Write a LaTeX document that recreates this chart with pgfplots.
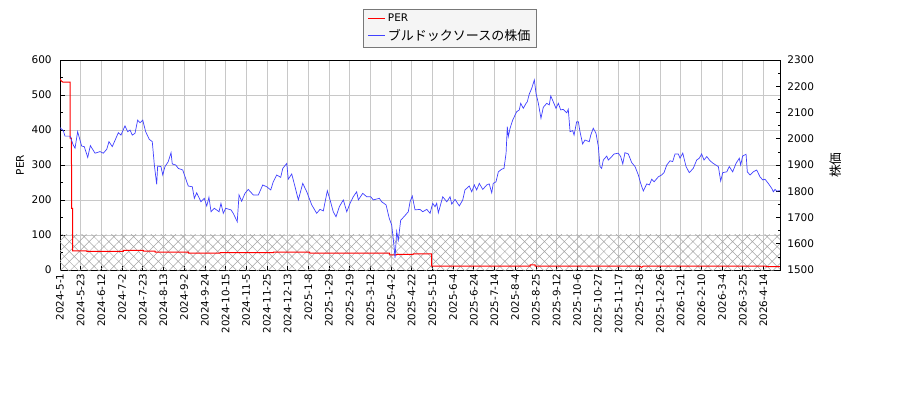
\documentclass[border=0pt]{standalone}
\usepackage{fontspec}
\setmainfont{DejaVu Sans}
\newfontfamily\jp{Noto Sans CJK JP}
\usepackage{pgfplots}
\pgfplotsset{compat=1.18}
\usetikzlibrary{patterns.meta}

\definecolor{gridgray}{RGB}{200,200,200}
\definecolor{priceblue}{RGB}{64,64,255}
\definecolor{legfill}{RGB}{245,245,245}
\definecolor{legdraw}{RGB}{120,120,120}
\definecolor{hatchgray}{RGB}{165,165,165}

\pgfplotsset{
  base/.style={
    scale only axis, width=720pt, height=210pt,
    xmin=0, xmax=522,
    tick align=inside,
    major tick length=4.5pt, minor tick length=2.5pt,
    every tick/.style={black, line width=0.6pt},
    tick label style={font=\fontsize{10.5}{12}\selectfont},
    label style={font=\fontsize{10.5}{12}\selectfont},
    /pgf/number format/assume math mode=true,
    /pgf/number format/1000 sep={},
    axis line style={line width=0.8pt},
  }
}

\begin{document}
\begin{tikzpicture}
\begin{axis}[base,
  ymin=0, ymax=600, ytick={0,100,...,600}, minor y tick num=1,
  xtick={0,15,...,510},
  xticklabels={2024-5-1,2024-5-23,2024-6-12,2024-7-2,2024-7-23,2024-8-13,2024-9-2,2024-9-24,2024-10-15,2024-11-5,2024-11-25,2024-12-13,2025-1-8,2025-1-29,2025-2-19,2025-3-12,2025-4-2,2025-4-22,2025-5-15,2025-6-4,2025-6-24,2025-7-14,2025-8-4,2025-8-25,2025-9-12,2025-10-6,2025-10-27,2025-11-17,2025-12-8,2025-12-26,2026-1-21,2026-2-10,2026-3-4,2026-3-25,2026-4-14},
  xticklabel style={rotate=90, anchor=east, font=\fontsize{10.3}{12}\selectfont},
  yticklabel style={xshift=-4.8pt},
  tick pos=left,
  grid=major, major grid style={gridgray, line width=0.6pt},
  ylabel={PER},
  ylabel style={at={(axis description cs:-0.0556,0.5)}, anchor=center},
]
\addplot[draw=none, pattern={Hatch[angle=45,distance=7pt,line width=0.5pt]}, pattern color=hatchgray, forget plot]
  coordinates {(0,102) (522,102)} \closedcycle;

\addplot[red, line width=1pt] coordinates {
(0,546) (1,540) (2,537) (7.3,537) (7.4,377) (8.3,377) (8.4,176) (9.1,176) (9.2,55)
(19.3,55) (19.4,53.5) (45.9,53.5) (46,56) (60.4,56) (60.5,54) (68.9,54) (69,51)
(93,51) (93.1,48.5) (116,48.5) (116.1,49.5) (154.7,49.5) (154.8,51) (181,51)
(181.1,48.5) (239,48.5) (239.1,43) (244,43) (244.1,45) (256,45) (256.1,46)
(269.4,46) (269.5,11.4) (340.8,11.4) (340.9,14.3) (344.4,14.3) (344.5,11.4)
(420.5,11.4) (421.5,7.6) (423,11.4) (512,11.4) (512.1,9.5) (522,9.5)
};
\end{axis}

\begin{axis}[base,
  ymin=1500, ymax=2300, ytick={1500,1600,...,2300}, minor y tick num=1,
  axis y line*=right, axis x line=none,
  yticklabel style={xshift=3.8pt},
  ylabel={\jp\fontsize{12.7}{14}\selectfont 株価},
  ylabel style={at={(axis description cs:1.0778,0.5)}, anchor=center, rotate=0},
  legend style={at={(axis description cs:0.5417,1.245)}, anchor=north,
    draw=legdraw, fill=legfill, line width=0.6pt,
    font=\fontsize{10.5}{12}\selectfont,
    inner xsep=4pt, inner ysep=3pt, row sep=2.5pt},
  legend cell align=left,
  legend image code/.code={\draw[#1] (0pt,0pt) -- (17pt,0pt);},
]
\addlegendimage{red, line width=1.2pt}
\addlegendentry{PER}
\addplot[priceblue, line width=0.7pt] coordinates {
(0,2042) (2.4,2031) (3.6,2010) (7.3,2010) (9.6,1976) (10.9,1964) (12.8,2027)
(15.7,1972) (17.6,1970) (20.1,1929) (22.0,1974) (25.4,1945) (29.0,1951)
(31.4,1945) (33.9,1960) (35.5,1989) (37.9,1970) (42.3,2023) (44.2,2014)
(47.1,2049) (49.1,2027) (50.8,2033) (52.4,2014) (54.4,2021) (56.3,2071)
(58.0,2061) (60.0,2071) (62.1,2027) (64.7,1998) (66.9,1989) (68.4,1900)
(70.1,1826) (70.8,1896) (73.2,1894) (74.5,1862) (76.1,1894) (78.5,1913)
(80.5,1947) (81.4,1904) (83.9,1900) (85.8,1887) (89.0,1881) (91.9,1836)
(93.0,1820) (95.9,1817) (97.4,1773) (99.1,1794) (102.2,1760) (104.6,1773)
(106.4,1744) (108.0,1777) (109.5,1722) (111.9,1735) (115.3,1722) (116.7,1754)
(118.4,1716) (120.1,1735) (124.0,1729) (125.6,1716) (128.5,1684) (129.8,1786)
(131.7,1762) (134.1,1792) (136.5,1807) (140.1,1786) (143.8,1786) (147.0,1824)
(149.9,1817) (152.8,1805) (154.6,1836) (157.1,1862) (160.0,1853) (161.5,1887)
(164.4,1906) (165.5,1846) (168.0,1866) (170.4,1817) (172.8,1767) (176.0,1830)
(178.9,1798) (182.5,1748) (186.1,1716) (188.5,1731) (190.9,1725) (193.8,1802)
(195.8,1767) (198.1,1722) (200.1,1703) (202.5,1741) (205.4,1767) (207.9,1722)
(210.3,1754) (212.6,1779) (215.1,1798) (216.3,1767) (219.5,1792) (222.4,1779)
(225.3,1779) (227.1,1767) (231.5,1773) (233.2,1760) (236.4,1748) (238.7,1697)
(240.5,1671) (242.2,1589) (242.9,1545) (244.1,1646) (245.3,1614) (247.0,1690)
(249.4,1703) (252.5,1722) (253.8,1760) (255.4,1782) (257.4,1729) (261.0,1731)
(263.0,1722) (265.9,1731) (268.3,1716) (270.2,1754) (271.9,1741) (273.1,1754)
(274.3,1718) (277.5,1779) (280.4,1760) (282.8,1779) (284.0,1751) (286.4,1769)
(289.5,1744) (292.0,1767) (293.6,1805) (296.7,1820) (298.5,1798) (300.4,1824)
(302.1,1805) (304.0,1830) (306.5,1807) (309.4,1824) (311.2,1828) (313.0,1794)
(314.1,1830) (316.1,1836) (317.8,1874) (320.2,1884) (321.9,1887) (323.4,1945)
(324.3,2046) (325.0,2008) (326.3,2040) (328.2,2071) (329.9,2090) (331.1,2103)
(333.0,2110) (334.0,2135) (335.9,2116) (337.9,2135) (338.8,2141) (340.2,2170)
(342.0,2192) (343.9,2224) (345.1,2173) (346.8,2135) (348.7,2078) (350.4,2120)
(352.9,2135) (354.7,2129) (355.8,2163) (357.6,2141) (359.6,2116) (361.3,2135)
(363.0,2110) (364.9,2112) (367.4,2099) (368.5,2112) (369.8,2027) (371.7,2031)
(372.7,2014) (374.6,2065) (375.8,2065) (377.0,2027) (378.9,1980) (380.6,1995)
(383.7,1989) (384.8,2014) (386.6,2040) (388.6,2021) (390.3,1970) (391.5,1894)
(392.7,1887) (393.9,1919) (396.4,1934) (397.5,1919) (400.0,1932) (401.7,1942)
(404.8,1945) (406.5,1932) (408.0,1904) (409.6,1947) (412.0,1942) (414.5,1909)
(416.9,1894) (419.3,1862) (421.0,1830) (422.9,1801) (425.4,1828) (427.3,1824)
(429.0,1846) (430.7,1836) (433.8,1855) (436.2,1862) (437.9,1871) (439.9,1900)
(442.3,1916) (444.2,1913) (445.9,1942) (448.3,1942) (449.5,1926) (451.5,1945)
(453.9,1894) (456.2,1871) (459.1,1887) (461.6,1919) (463.5,1926) (465.2,1942)
(466.9,1919) (468.9,1932) (471.3,1916) (473.6,1906) (477.3,1894) (479.0,1839)
(480.5,1871) (483.4,1874) (485.2,1894) (487.7,1874) (490.1,1906) (492.5,1926)
(493.5,1900) (494.9,1934) (497.4,1941) (498.3,1874) (500.3,1862) (502.6,1874)
(505.1,1881) (507.5,1855) (509.5,1843) (511.1,1846) (513.5,1830) (516.0,1811)
(517.2,1798) (518.4,1807) (519.6,1801) (522.0,1802)
};
\addlegendentry{\jp\fontsize{13}{14}\selectfont ブルドックソースの株価}
\end{axis}
\pgfresetboundingbox
\path (-60pt,-130pt) rectangle (840pt,270pt);
\end{tikzpicture}
\end{document}
